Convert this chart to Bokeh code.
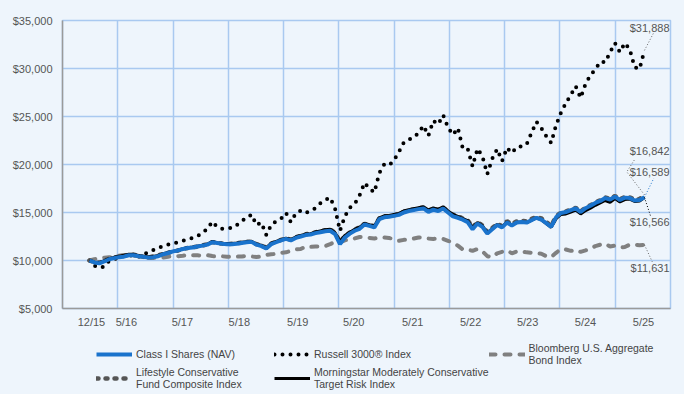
from bokeh.plotting import figure
from bokeh.layouts import column
from bokeh.models import Range1d, FixedTicker, NumeralTickFormatter, Legend, LegendItem
from bokeh.core.properties import value
from bokeh.embed import file_html
from bokeh.resources import INLINE

# month index: 0 = 12/15 ... 113 = 5/25
MONTHS = list(range(114))

CLASS_I = [
    10000, 9800, 9700, 9900, 10130, 10250, 10350, 10400, 10550, 10550,
    10450, 10380, 10300, 10350, 10450, 10650, 10780, 10950, 11050, 11200,
    11300, 11350, 11450, 11550, 11650, 11900, 11820, 11750, 11700, 11700,
    11750, 11830, 11900, 11940, 11650, 11500, 11250, 11700, 11900, 12100,
    12250, 12100, 12350, 12500, 12650, 12700, 12850, 12950, 13050, 13100,
    12750, 11700, 12400, 12800, 13100, 13300, 13750, 13600, 13450, 14300,
    14500, 14550, 14650, 14750, 15000, 15150, 15250, 15350, 15420, 15060,
    15300, 15150, 15420, 15000, 14600, 14450, 14250, 14000, 13250, 13850,
    13500, 12800, 13250, 13700, 13450, 13950, 13650, 13950, 14000, 13950,
    14200, 14450, 14250, 13900, 13500, 14500, 14950, 15050, 15250, 15420,
    15050, 15450, 15700, 16000, 16200, 16500, 16350, 16650, 16300, 16550,
    16500, 16250, 16300, 16589,
]

RUSSELL_3000 = [
    10000, 9450, 9230, 9350, 9950, 10150, 10250, 10500, 10550, 10500,
    10400, 10650, 10850, 11100, 11350, 11450, 11650, 11800, 11880, 12050,
    12200, 12350, 12550, 12900, 13300, 14050, 13500, 13300, 13330, 13400,
    13700, 14150, 14400, 14800, 13700, 13950, 12650, 13700, 14100, 14350,
    14950, 14000, 14900, 15200, 14950, 15200, 15450, 15950, 16300, 16550,
    15400, 13100, 14600, 15500, 15900, 16800, 18100, 17500, 17100, 19100,
    20000, 19900, 20450, 21300, 22300, 22600, 22800, 23300, 24050, 23000,
    24550, 24200, 25150, 23850, 23100, 23800, 21700, 21650, 19800, 21650,
    20850, 19000, 20600, 21600, 20350, 21750, 21200, 21800, 21900, 22100,
    23300, 24450, 23800, 22950, 22250, 24100, 25400, 26400, 27250, 28150,
    26950, 28400, 29300, 29900, 30700, 30650, 31700, 32650, 31700, 32650,
    32000, 30150, 29950, 31888,
]

BLOOMBERG_AGG = [
    10000, 10140, 10200, 10300, 10350, 10350, 10500, 10580, 10570, 10520,
    10440, 10220, 10250, 10270, 10330, 10320, 10400, 10470, 10450, 10500,
    10580, 10550, 10540, 10520, 10560, 10460, 10420, 10440, 10380, 10400,
    10400, 10420, 10480, 10420, 10360, 10400, 10580, 10650, 10680, 10800,
    10850, 11000, 11150, 11200, 11450, 11420, 11450, 11450, 11500, 11700,
    11950, 11900, 12100, 12200, 12300, 12450, 12400, 12350, 12300, 12380,
    12400, 12350, 12200, 12050, 12150, 12200, 12280, 12400, 12380, 12280,
    12250, 12300, 12250, 12050, 11850, 11550, 11150, 11150, 11000, 11200,
    10950, 10450, 10350, 10750, 10900, 11050, 10750, 10950, 10950, 10850,
    10800, 10750, 10700, 10450, 10350, 10800, 11200, 11150, 11000, 11100,
    10900, 11050, 11250, 11500, 11650, 11750, 11450, 11550, 11350, 11400,
    11650, 11650, 11600, 11631,
]

LIFESTYLE_COMPOSITE = [
    10000, 9820, 9780, 10000, 10180, 10280, 10400, 10480, 10600, 10600,
    10480, 10380, 10330, 10420, 10540, 10680, 10820, 10930, 11040, 11200,
    11300, 11360, 11460, 11570, 11680, 11920, 11800, 11760, 11720, 11740,
    11800, 11870, 11940, 11980, 11700, 11580, 11320, 11760, 11960, 12150,
    12300, 12170, 12430, 12570, 12730, 12790, 12940, 13050, 13160, 13230,
    12900, 11900, 12550, 12900, 13220, 13460, 13820, 13700, 13570, 14380,
    14600, 14620, 14720, 14850, 15080, 15230, 15330, 15430, 15520, 15200,
    15420, 15260, 15520, 15100, 14780, 14620, 14380, 14200, 13450, 14000,
    13650, 12950, 13380, 13820, 13580, 14080, 13800, 14080, 14130, 14080,
    14330, 14560, 14380, 14020, 13600, 14580, 15000, 15100, 15300, 15480,
    15120, 15500, 15760, 16060, 16270, 16570, 16420, 16720, 16370, 16630,
    16580, 16330, 16400, 16842,
]

MORNINGSTAR_MOD_CONS = [
    10000, 9830, 9760, 9980, 10200, 10330, 10450, 10520, 10650, 10640,
    10520, 10420, 10380, 10430, 10520, 10700, 10830, 10950, 11080, 11230,
    11330, 11400, 11500, 11600, 11720, 11980, 11860, 11800, 11760, 11780,
    11830, 11900, 11960, 12000, 11680, 11600, 11330, 11800, 12000, 12180,
    12330, 12200, 12450, 12600, 12750, 12800, 12960, 13080, 13200, 13250,
    12900, 11950, 12600, 12950, 13250, 13480, 13850, 13720, 13600, 14450,
    14650, 14700, 14800, 14900, 15150, 15300, 15400, 15500, 15600, 15250,
    15480, 15320, 15600, 15150, 14800, 14600, 14350, 14150, 13400, 13950,
    13600, 12900, 13300, 13750, 13500, 14000, 13700, 13950, 14000, 13950,
    14200, 14450, 14250, 13850, 13450, 14350, 14800, 14850, 15050, 15250,
    14850, 15200, 15450, 15750, 16000, 16250, 16050, 16450, 16100, 16350,
    16400, 16150, 16200, 16566,
]

SERIES_NAMES = [
    "Class I Shares (NAV)",
    "Russell 3000® Index",
    "Bloomberg U.S. Aggregate\nBond Index",
    "Lifestyle Conservative\nFund Composite Index",
    "Morningstar Moderately Conservative\nTarget Risk Index",
]

TICK_LABELS = ["12/15", "5/16", "5/17", "5/18", "5/19", "5/20",
               "5/21", "5/22", "5/23", "5/24", "5/25"]
TICK_POS = [0.4, 7.5, 18.9, 30.5, 42.4, 53.8, 65.8, 77.6, 89.2, 101.0, 112.8]
Y_TICKS = [5000, 10000, 15000, 20000, 25000, 30000, 35000]

# ---- layout / style ----
BG = "#eef5fc"
GRID = "#a9c9f0"
FONT = "Liberation Sans"
X0, X1 = -5.5, 118.3
BLUE = "#1a73cc"
STYLES = {
    "ci": dict(line_color=BLUE, line_width=4),
    "ru": dict(line_color="#000000", line_width=4, line_dash="0 8", line_cap="round"),
    "bb": dict(line_color="#808080", line_width=4, line_dash="6 9", line_cap="round"),
    "ls": dict(line_color="#555555", line_width=4.5, line_dash="2 7", line_cap="round"),
    "ms": dict(line_color="#000000", line_width=3),
}

p = figure(width=668, height=322, x_range=Range1d(X0, X1), y_range=Range1d(5000, 35000),
           output_backend="svg", toolbar_location=None,
           min_border_left=54, min_border_right=6, min_border_top=12, min_border_bottom=22,
           background_fill_color=BG, border_fill_color=BG)

p.outline_line_color = GRID
p.outline_line_width = 1.5

p.xgrid.ticker = FixedTicker(ticks=[X0 + k * (X1 - X0) / 11 for k in range(1, 11)])
p.ygrid.ticker = FixedTicker(ticks=Y_TICKS)
for g in (p.xgrid, p.ygrid):
    g.grid_line_color = GRID
    g.grid_line_width = 1.5

p.xaxis.ticker = FixedTicker(ticks=TICK_POS)
p.xaxis.major_label_overrides = {t: l for t, l in zip(TICK_POS, TICK_LABELS)}
p.yaxis.ticker = FixedTicker(ticks=Y_TICKS)
p.yaxis.formatter = NumeralTickFormatter(format="$0,0")
for ax in (p.xaxis, p.yaxis):
    ax.axis_line_color = "#9a9a9a"
    ax.axis_line_width = 1.5
    ax.major_tick_line_color = None
    ax.minor_tick_line_color = None
    ax.major_tick_out = 0
    ax.major_tick_in = 0
    ax.major_label_text_font = FONT
    ax.major_label_text_font_size = "11px"
    ax.major_label_text_color = "#555555"
p.xaxis.major_label_standoff = 7
p.yaxis.major_label_standoff = 10

p.line(MONTHS, BLOOMBERG_AGG, **STYLES["bb"])
p.line(MONTHS, RUSSELL_3000, **STYLES["ru"])
p.line(MONTHS, LIFESTYLE_COMPOSITE, **STYLES["ls"])
p.line(MONTHS, MORNINGSTAR_MOD_CONS, **STYLES["ms"])
p.line(MONTHS, CLASS_I, **STYLES["ci"])

# end-value labels with dotted leaders
END = len(MONTHS) - 1
LABEL_X = 118.1
series_info = [
    (RUSSELL_3000, 34200, [114.8], [33650], "#666666"),
    (LIFESTYLE_COMPOSITE, 21440, [109.4, 111.0], [19230, 20520], "#666666"),
    (CLASS_I, 19220, [114.9], [18570], BLUE),
    (MORNINGSTAR_MOD_CONS, 14040, [114.3], [14540], "#000000"),
    (BLOOMBERG_AGG, 9170, [114.6], [9850], "#666666"),
]
lx, ly, lt = [], [], []
for vals, label_y, px, py, col in series_info:
    p.line([MONTHS[END]] + px, [vals[END]] + py, line_color=col, line_width=1, line_dash="1 2")
    lx.append(LABEL_X)
    ly.append(label_y)
    lt.append("${:,.0f}".format(vals[END]))
p.text(x=lx, y=ly, text=lt, text_align="right", text_baseline="middle",
       text_font=value(FONT), text_font_size="11px", text_color="#555555")

# ---- legend strip (second figure under the chart; frames are aligned) ----
q = figure(width=668, height=64, x_range=Range1d(0, 1), y_range=Range1d(0, 1),
           output_backend="svg", toolbar_location=None,
           min_border_left=54, min_border_right=6, min_border_top=0, min_border_bottom=0,
           background_fill_color=BG, border_fill_color=BG, outline_line_color=None)
q.axis.visible = False
q.grid.visible = False
NAN = float("nan")
keys = ["ci", "ru", "bb", "ls", "ms"]
items = []
for k, name in zip(keys, SERIES_NAMES):
    r = q.line(x=[NAN], y=[NAN], **STYLES[k])
    items.append(LegendItem(label=name, renderers=[r]))
legend = Legend(items=items, ncols=3, orientation="horizontal", location=(34, 4))
legend.label_text_font = FONT
legend.label_text_font_size = "10.5px"
legend.label_text_color = "#444444"
legend.label_text_line_height = 1.25
legend.glyph_width = 36
legend.glyph_height = 12
legend.label_height = 12
legend.label_standoff = 4
legend.label_width = 138
legend.spacing = 0
legend.padding = 0
legend.margin = 0
legend.border_line_color = None
legend.background_fill_alpha = 0
q.add_layout(legend, "center")

layout = column(p, q, spacing=0)
html = file_html(layout, INLINE)
html = html.replace("</head>", "<style>html,body{background:%s;overflow:hidden;}body{margin:8px;}</style></head>" % BG, 1)
open("out.html", "w").write(html)
